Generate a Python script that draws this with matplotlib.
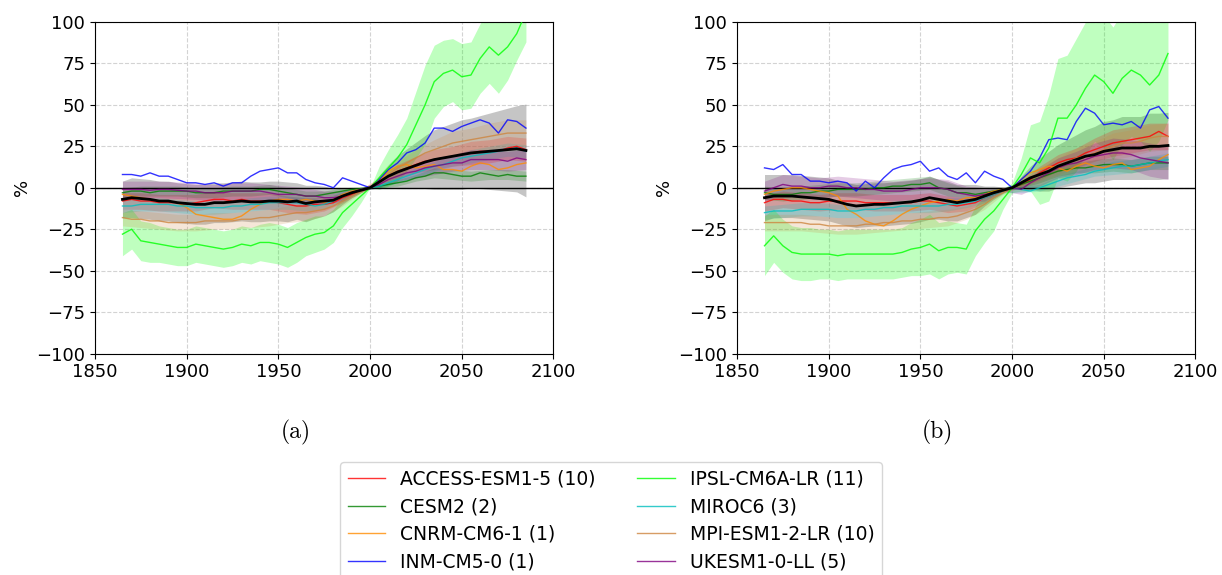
import matplotlib
matplotlib.use("Agg")
import matplotlib.pyplot as plt
import numpy as np

years = list(range(1865, 2086, 5))
years10 = list(range(1865, 2086, 10))

models = ["ACCESS-ESM1-5 (10)", "CESM2 (2)", "CNRM-CM6-1 (1)", "INM-CM5-0 (1)",
          "IPSL-CM6A-LR (11)", "MIROC6 (3)", "MPI-ESM1-2-LR (10)", "UKESM1-0-LL (5)"]
colors = ["red", "green", "darkorange", "blue", "lime", "c", "peru", "purple"]

# ---------------- panel (a) ----------------
access_a = [-8,-7,-8,-8,-9,-9,-9,-10,-9,-8,-7,-7,-8,-7,-8,-8,-8,-9,-10,-11,-11,-10,-10,-9,-6,-4,-2,0,4,7,10,12,14,16,17,18,19,20,21,22,22,22,24,25,23]
cesm_a = [-3,-2,-2,-3,-2,-2,-2,-2,-3,-3,-3,-2,-2,-2,-2,-1,-1,-2,-3,-4,-5,-5,-4,-3,-2,-1,-0.5,0,1,2,3,4,6,7,9,9,8,7,7,9,8,7,8,7,7]
cnrm_a = [-4,-5,-6,-7,-8,-8,-9,-12,-16,-17,-18,-19,-19,-17,-13,-10,-8,-7,-7,-8,-7,-8,-9,-7,-4,-2,-1,0,4,10,13,14,12,13,14,11,11,10,13,15,14,11,12,14,15]
inm_a = [8,8,7,9,7,7,5,3,3,2,3,1,3,3,7,10,11,12,9,9,5,3,2,0,6,4,2,0,5,11,15,21,23,27,36,36,34,37,39,41,39,33,41,40,36]
ipsl_a = [-28,-25,-32,-33,-34,-35,-36,-36,-34,-35,-36,-37,-36,-34,-35,-33,-33,-34,-36,-33,-30,-28,-27,-23,-15,-10,-5,0,6,12,18,26,38,50,64,69,71,67,68,78,85,80,85,93,106]
miroc_a = [-11,-11,-10,-10,-10,-10,-11,-11,-12,-12,-12,-12,-11,-11,-10,-10,-9,-9,-9,-9,-10,-11,-10,-8,-5,-3,-1,0,1,3,5,7,9,11,13,14,16,18,19,20,21,22,23,24,22]
mpi_a = [-18,-19,-19,-20,-20,-21,-21,-21,-21,-20,-20,-20,-20,-19,-19,-18,-18,-17,-16,-15,-15,-14,-13,-11,-8,-5,-2,0,4,8,12,15,18,21,23,25,27,28,29,30,31,32,33,33,33]
ukesm_a = [-1,-1,-1,-1.5,-1,-1,-1.5,-2,-2,-3,-3,-3,-2,-2,-2,-2,-3,-4,-4,-4,-5,-5,-6,-6,-5,-3,-1,0,2,5,7,9,10,12,13,14,15,15,17,17,17,17,16,18,17]
mean_a = [-7,-6,-6.5,-7,-8,-8,-9,-9.5,-10,-10,-9,-9,-8.5,-8,-8.5,-8.5,-8,-8,-8.5,-8,-9.5,-8.5,-8,-7.5,-5,-3,-1.5,0,3.5,7,9.5,11.5,13.5,15.5,17,18,19,20,21,21.5,22,22.5,23,23.5,22.5]
# spreads (half widths)
grey_sd_a = [11,12,12,12,12,12,12,12,12,12,12,12,12,12,12,12,12,12,12,11,11,10,9,7,5,3,1.5,0,4,7,10,12,14,16,18,19,20,21,21,22,23,24,25,26,28]
ipsl_sd_a = [13,12,12,12,11,11,11,11,11,11,11,11,11,11,11,11,12,12,12,12,11,11,10,10,9,7,4,0,7,11,14,16,20,24,22,20,19,20,20,21,22,23,20,16,18]
access_sd_a = [5,5,5,5,5,5,5,5,5,5,5,4,3,1,2,4,5,6,6,7,7,7,7]
cesm_sd_a = [3,3,3,3,3,3,3,3,3,3,3,2,2,1,1,2,2,3,3,3,3,3,3]
miroc_sd_a = [4,4,4,4,4,4,4,4,4,4,4,3,3,1,1,2,3,3,3,4,4,4,4]
mpi_sd_a = [5,5,5,5,5,5,5,5,5,5,5,4,3,1,2,4,5,6,7,7,8,8,8]
ukesm_sd_a = [5,5,5,5,5,5,5,5,5,5,5,4,3,1,2,3,4,5,5,6,6,6,6]

# ---------------- panel (b) ----------------
access_b = [-9,-7,-7,-8,-8,-9,-9,-8,-8,-8,-8,-9,-9,-9,-9,-9,-9,-8,-8,-9,-10,-11,-10,-9,-6,-4,-2,0,2,5,9,12,15,17,18,21,23,25,27,28,29,30,31,34,31]
cesm_b = [-3,-4,-4,-4,-3,-3,-2,-2,-1,-1,-1,-1,0,0,1,1,2,2,3,0,-1,-3,-3,-4,-3,-2,-1,0,2,4,6,8,10,11,12,12,13,14,14,14,13,14,15,15,15]
cnrm_b = [-4,-2,-1,0,0,-1,-2,-3,-5,-13,-16,-20,-22,-23,-20,-16,-13,-11,-9,-8,-7,-8,-6,-6,-4,-2,-1,0,5,9,11,13,12,10,13,15,13,12,14,15,11,12,13,17,20]
inm_b = [12,11,14,8,8,4,4,3,4,3,-2,4,0,6,11,13,14,16,10,12,7,5,9,3,10,7,5,0,5,10,18,29,30,29,40,48,45,38,39,38,40,36,47,49,42]
ipsl_b = [-35,-29,-35,-39,-40,-40,-40,-40,-41,-40,-40,-40,-40,-40,-40,-39,-37,-36,-34,-38,-36,-36,-37,-26,-19,-14,-7,0,8,18,15,24,42,42,50,60,68,64,57,66,71,68,62,68,81]
miroc_b = [-15,-14,-14,-14,-13,-13,-13,-13,-14,-14,-14,-13,-13,-12,-12,-11,-11,-11,-11,-11,-10,-10,-9,-8,-6,-4,-2,0,-1,-2,0,2,4,6,7,8,10,11,12,13,13,14,15,16,17]
mpi_b = [-21,-21,-21,-21,-21,-22,-22,-23,-23,-23,-23,-22,-22,-21,-21,-20,-20,-19,-19,-18,-18,-17,-15,-13,-10,-6,-3,0,3,6,8,10,13,15,18,19,21,23,25,27,27,28,30,31,31]
ukesm_b = [-2,0,2,1,1,0,0,1,1,0,0,-1,-1,-2,-2,-2,-1,0,0,0,-1,-3,-4,-5,-4,-3,-1,0,-1,3,6,9,12,14,15,17,19,20,21,21,20,18,17,16,15]
mean_b = [-6,-5,-5,-5,-5.5,-6,-6.5,-7,-8.5,-10,-11,-10.5,-10,-10,-9.5,-9,-8.5,-7.5,-6,-7,-8,-9,-8,-7,-5,-3,-1.5,0,3,6,8,10,13,15,17,19,20,22,23,24,24,24,25,25,25.5]
grey_sd_b = [14,13,13,13,13,13,13,13,13,13,13,13,13,13,13,13,13,13,13,12,12,11,10,9,6,4,2,0,4,7,10,12,13,14,15,16,17,18,18,19,19,19,20,20,20]
ipsl_sd_b = [18,16,16,16,16,16,15,15,15,15,15,15,15,15,15,15,16,17,18,17,16,15,15,15,14,12,6,3,10,20,25,32,36,38,40,40,40,40,40,40,40,40,40,40,40]
access_sd_b = [5,5,5,5,5,5,5,5,5,5,5,4,3,1,2,4,5,6,7,8,8,8,8]
cesm_sd_b = [4,4,4,4,4,4,4,4,4,4,4,3,2,1,2,3,3,3,4,4,4,4,4]
miroc_sd_b = [4,4,4,4,4,4,4,4,4,4,4,3,3,1,2,2,3,3,3,4,4,4,4]
mpi_sd_b = [5,5,5,5,5,5,5,5,5,5,5,4,3,1,2,4,5,6,7,8,8,8,8]
ukesm_sd_b = [6,6,6,6,6,6,6,6,6,6,6,5,4,1,3,5,6,7,8,9,9,10,10]

yticks = [-100, -75, -50, -25, 0, 25, 50, 75, 100]
xticks = [1850, 1900, 1950, 2000, 2050, 2100]

fig = plt.figure(figsize=(12.22, 5.75), dpi=100)
ax_a = fig.add_axes([0.0777, 0.3852, 0.3752, 0.5765])
ax_b = fig.add_axes([0.6031, 0.3852, 0.3752, 0.5765])


def draw(ax, series, sds10, ipsl_sd, mean, grey_sd):
    yr = np.array(years)
    m = np.array(mean)
    g = np.array(grey_sd)
    ax.fill_between(yr, m - g, m + g, color="grey", alpha=0.45, lw=0, zorder=1)
    for i, (vals, col) in enumerate(zip(series, colors)):
        v = np.array(vals)
        if i == 4:
            s = np.array(ipsl_sd)
            ax.fill_between(yr, v - s, v + s, color=col, alpha=0.25, lw=0, zorder=1.5)
        elif sds10[i] is not None:
            s = np.array(sds10[i])
            vv = v[::2]
            ax.fill_between(years10, vv - s, vv + s, color=col, alpha=0.2, lw=0, zorder=2)
    for i, (vals, col) in enumerate(zip(series, colors)):
        ax.plot(yr, vals, color=col, lw=1.0, alpha=0.8, zorder=3, label=models[i])
    ax.plot(yr, m, color="black", lw=2.0, zorder=4)
    ax.axhline(0, color="black", lw=1.0, zorder=2.5)
    ax.set_xlim(1850, 2100)
    ax.set_ylim(-100, 100)
    ax.set_xticks(xticks)
    ax.set_yticks(yticks)
    ax.tick_params(labelsize=13)
    ax.grid(True, ls="--", color="#d3d3d3", lw=0.8)
    ax.set_axisbelow(True)
    ax.set_ylabel("%", fontsize=13)


draw(ax_a, [access_a, cesm_a, cnrm_a, inm_a, ipsl_a, miroc_a, mpi_a, ukesm_a],
     [access_sd_a, cesm_sd_a, None, None, None, miroc_sd_a, mpi_sd_a, ukesm_sd_a],
     ipsl_sd_a, mean_a, grey_sd_a)
draw(ax_b, [access_b, cesm_b, cnrm_b, inm_b, ipsl_b, miroc_b, mpi_b, ukesm_b],
     [access_sd_b, cesm_sd_b, None, None, None, miroc_sd_b, mpi_sd_b, ukesm_sd_b],
     ipsl_sd_b, mean_b, grey_sd_b)

fig.text(296 / 1222, 1 - 432 / 575, "(a)", family="cmr10", fontsize=17, ha="center", va="center")
fig.text(937 / 1222, 1 - 432 / 575, "(b)", family="cmr10", fontsize=17, ha="center", va="center")

handles, labels = ax_a.get_legend_handles_labels()
fig.legend(handles, labels, ncol=2,
           loc="upper center", bbox_to_anchor=(0.5, 1 - 453 / 575), fontsize=13.5,
           frameon=True, columnspacing=2.2, labelspacing=0.45, handlelength=2.0)

fig.savefig("out.png", dpi=100)
